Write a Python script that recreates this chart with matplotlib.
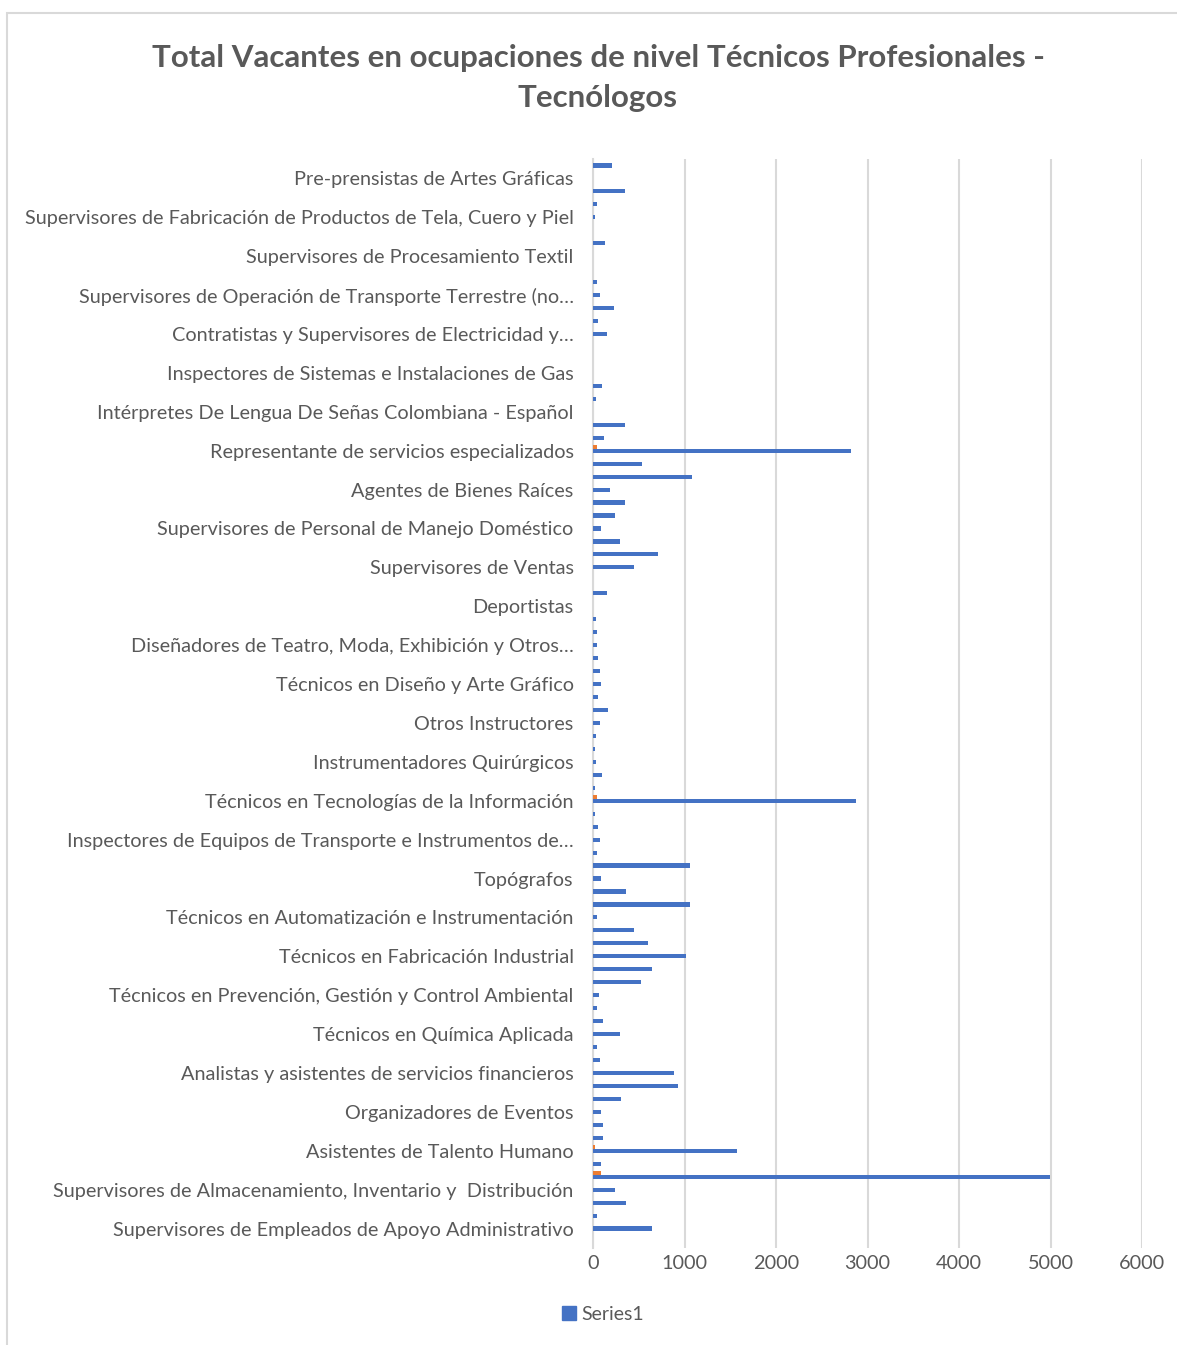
import matplotlib
matplotlib.use("Agg")
import matplotlib.pyplot as plt
from matplotlib.patches import Rectangle, Patch

plt.rcParams['font.family'] = ['Lato', 'DejaVu Sans']

# 84 ocupaciones, de arriba hacia abajo; solo una de cada tres lleva etiqueta visible
valores = [212, 0, 350, 47, 18, 0, 135, 0, 0, 47, 73, 226, 58, 150,
           0, 0, 0, 95, 33, 0, 350, 124, 2823, 540, 1080, 186, 350, 237,
           84, 300, 715, 453, 0, 150, 0, 33, 47, 47, 58, 73, 84, 58,
           160, 73, 33, 18, 33, 95, 18, 2874, 18, 58, 73, 47, 1055, 84,
           361, 1055, 44, 453, 602, 1018, 642, 526, 69, 44, 106, 300, 44, 73,
           880, 930, 310, 84, 106, 106, 1577, 84, 4990, 237, 361, 44, 642, 0]

# pequeñas barras naranjas que aparecen junto a algunas barras
naranja_idx = [22, 49, 76, 78]
naranja_val = [47, 47, 18, 84]

etiquetas = [
    "Pre-prensistas de Artes Gráficas",
    "Supervisores de Fabricación de Productos de Tela, Cuero y Piel",
    "Supervisores de Procesamiento Textil",
    "Supervisores de Operación de Transporte Terrestre (no…",
    "Contratistas y Supervisores de Electricidad y…",
    "Inspectores de Sistemas e Instalaciones de Gas",
    "Intérpretes De Lengua De Señas Colombiana - Español",
    "Representante de servicios especializados",
    "Agentes de Bienes Raíces",
    "Supervisores de Personal de Manejo Doméstico",
    "Supervisores de Ventas",
    "Deportistas",
    "Diseñadores de Teatro, Moda, Exhibición y Otros…",
    "Técnicos en Diseño y Arte Gráfico",
    "Otros Instructores",
    "Instrumentadores Quirúrgicos",
    "Técnicos en Tecnologías de la Información",
    "Inspectores de Equipos de Transporte e Instrumentos de…",
    "Topógrafos",
    "Técnicos en Automatización e Instrumentación",
    "Técnicos en Fabricación Industrial",
    "Técnicos en Prevención, Gestión y Control Ambiental",
    "Técnicos en Química Aplicada",
    "Analistas y asistentes de servicios financieros",
    "Organizadores de Eventos",
    "Asistentes de Talento Humano",
    "Supervisores de Almacenamiento, Inventario y  Distribución",
    "Supervisores de Empleados de Apoyo Administrativo",
]
etiqueta_pos = list(range(1, 84, 3))

gris = "#595959"
azul = "#4472C4"
naranja = "#ED7D31"

fig = plt.figure(figsize=(11.77, 13.45), dpi=100)
fig.patches.append(Rectangle((7 / 1177, -0.1), 1.2, 1 - 13 / 1345 + 0.1,
                             transform=fig.transFigure, fill=False,
                             edgecolor="#d9d9d9", linewidth=1.5))

ax = fig.add_axes([593 / 1177, 1 - 1248 / 1345, (1142 - 593) / 1177, (1248 - 159) / 1345])

pos = list(range(len(valores)))
ax.barh(pos, valores, height=0.32, color=azul, zorder=3)
ax.barh([p - 0.3 for p in naranja_idx], naranja_val, height=0.3, color=naranja, zorder=3)

ax.set_ylim(len(valores) - 0.5, -0.5)
ax.set_xlim(0, 6000)
ax.set_xticks(range(0, 6001, 1000))
ax.set_yticks(etiqueta_pos)
ax.set_yticklabels(etiquetas)
ax.tick_params(axis='y', length=0, pad=14, labelsize=14.3, labelcolor=gris)
ax.tick_params(axis='x', length=0, pad=5, labelsize=14.3, labelcolor=gris)
ax.grid(axis='x', color="#d9d9d9", linewidth=1.5, zorder=0)
for s in ["top", "right", "bottom"]:
    ax.spines[s].set_visible(False)
ax.spines["left"].set_color("#d9d9d9")
ax.spines["left"].set_linewidth(1.5)

fig.text(598 / 1177, 1 - 78 / 1345,
         "Total Vacantes en ocupaciones de nivel Técnicos Profesionales -\nTecnólogos",
         ha="center", va="center", fontsize=22.5, fontweight="bold", color=gris,
         linespacing=1.55)

fig.legend(handles=[Patch(color=azul, label="Series1")], loc="center",
           bbox_to_anchor=(603 / 1177, 1 - 1314 / 1345), frameon=False,
           fontsize=14, labelcolor=gris, handlelength=0.7, handleheight=0.7,
           handletextpad=0.3)

fig.savefig("out.png", dpi=100)
